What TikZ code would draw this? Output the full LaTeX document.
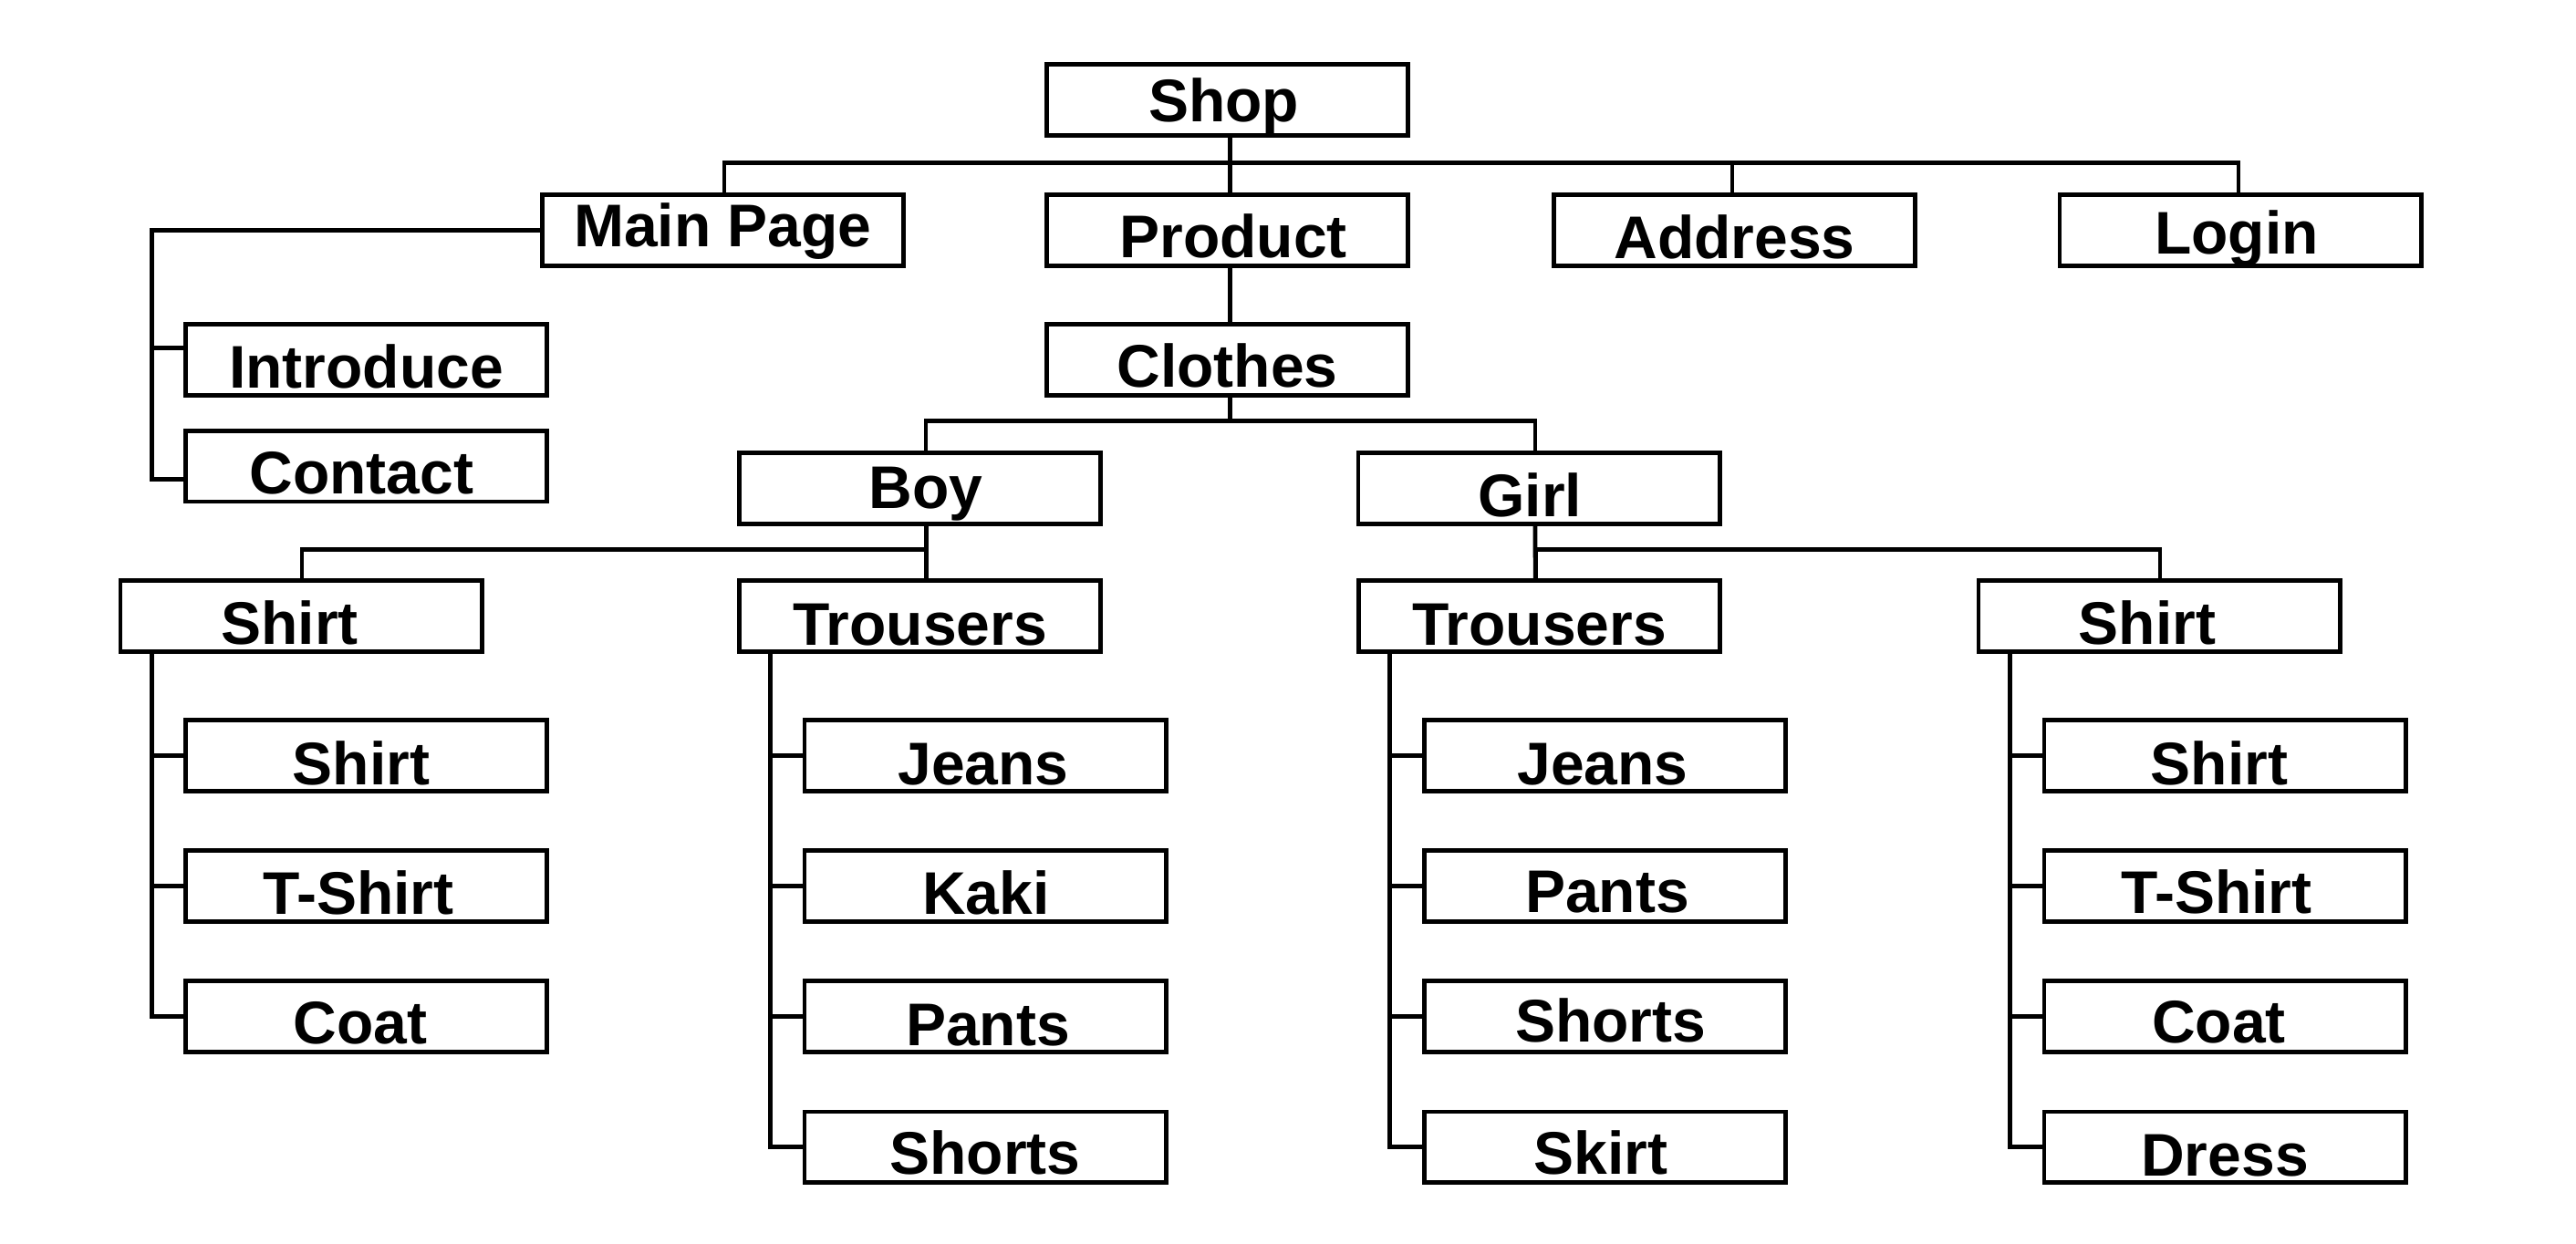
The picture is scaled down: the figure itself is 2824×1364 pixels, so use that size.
\documentclass[tikz,border=0pt]{standalone}
\usepackage{fontspec}
\setmainfont{Liberation Sans}
\newcommand\lbl[3]{\raisebox{-#2pt}{\hspace*{#1pt}\makebox[0pt]{#3}\hspace*{-#1pt}}}
\begin{document}
\begin{tikzpicture}[x=1pt,y=-1pt,line width=4.7pt,
  bx/.style={draw,line width=4.7pt,minimum width=396.3pt,minimum height=77.7pt,
    inner sep=0pt,outer sep=0pt,text height=47.2pt,text depth=0pt,
    font=\fontsize{66}{79}\selectfont\bfseries},
  link/.style={draw,line width=4.7pt}]
\fill[white] (0,0) rectangle (2824,1364);
\useasboundingbox (0,0) rectangle (2824,1364);
% level 0 and 1
\node[bx] (shop) at (1345.5,109.5) {\lbl{-4}{0}{Shop}};
\node[bx] (mp) at (792.5,252.5) {\lbl{0}{-6}{Main Page}};
\node[bx] (product) at (1345.5,252.5) {\lbl{6.5}{6}{Product}};
\node[bx] (address) at (1901.5,252.5) {\lbl{0}{7}{Address}};
\node[bx] (login) at (2456,252.5) {\lbl{-4}{2}{Login}};
% main page children
\node[bx] (intro) at (401.5,394.5) {\lbl{0}{7.5}{Introduce}};
\node[bx] (contact) at (401.5,511) {\lbl{-5}{7}{Contact}};
% product branch
\node[bx] (clothes) at (1345.5,394.5) {\lbl{0}{6.5}{Clothes}};
\node[bx] (boy) at (1008.5,535.5) {\lbl{6.5}{-1.5}{Boy}};
\node[bx] (girl) at (1687.2,535.5) {\lbl{-10}{7}{Girl}};
\node[bx] (bshirt) at (330,675.5) {\lbl{-12.5}{7}{Shirt}};
\node[bx] (btrousers) at (1008.5,675.5) {\lbl{0}{8}{Trousers}};
\node[bx] (gtrousers) at (1687.5,675.5) {\lbl{0}{8.5}{Trousers}};
\node[bx] (gshirt) at (2367,675.5) {\lbl{-13}{7}{Shirt}};
% boy shirt children
\node[bx] (bs1) at (401.6,828.5) {\lbl{-5.6}{8.5}{Shirt}};
\node[bx] (bs2) at (401.6,971.5) {\lbl{-8.6}{7}{T-Shirt}};
\node[bx] (bs3) at (401.6,1114.5) {\lbl{-6.6}{6}{Coat}};
% boy trousers children
\node[bx] (bt1) at (1080,828.5) {\lbl{-2}{8}{Jeans}};
\node[bx] (bt2) at (1080,971.5) {\lbl{0.7}{7}{Kaki}};
\node[bx] (bt3) at (1080,1114.5) {\lbl{3}{8}{Pants}};
\node[bx] (bt4) at (1080,1257.8) {\lbl{0}{6}{Shorts}};
% girl trousers children
\node[bx] (gt1) at (1759.6,828.5) {\lbl{-2.6}{8.5}{Jeans}};
\node[bx] (gt2) at (1759.6,971.5) {\lbl{2.4}{5.5}{Pants}};
\node[bx] (gt3) at (1759.6,1114.5) {\lbl{6}{4.5}{Shorts}};
\node[bx] (gt4) at (1759.6,1257.8) {\lbl{-4.6}{6}{Skirt}};
% girl shirt children
\node[bx] (gs1) at (2439,828.5) {\lbl{-6}{8.5}{Shirt}};
\node[bx] (gs2) at (2439,971.5) {\lbl{-9}{6}{T-Shirt}};
\node[bx] (gs3) at (2439,1114.5) {\lbl{-6.4}{5.5}{Coat}};
\node[bx] (gs4) at (2439,1257.8) {\lbl{0}{7.8}{Dress}};
% connectors: top level
\draw[link] ([xshift=2.8pt]shop.south) -- ([xshift=2.8pt]product.north);
\draw[link] ([xshift=1.5pt]mp.north) -- ++(0,-35.4) -| ([xshift=-2pt]login.north);
\draw[link] ([xshift=-2.5pt]address.north) -- ++(0,-35.4);
% main page spine
\draw[link] (mp.west) -| ([xshift=-37pt,yshift=-14.4pt]contact.west) -- ([yshift=-14.4pt]contact.west);
\draw[link] ([xshift=-37pt,yshift=13pt]intro.west) -- ([yshift=13pt]intro.west);
% product -> clothes -> boy / girl
\draw[link] ([xshift=2.8pt]product.south) -- ([xshift=2.8pt]clothes.north);
\draw[link] ([xshift=2.8pt]clothes.south) -- ++(0,28.15);
\draw[link] ([xshift=6.5pt]boy.north) -- ++(0,-35.15) -| ([xshift=-4.2pt]girl.north);
% boy -> shirt / trousers
\draw[link] ([xshift=7pt]boy.south) -- ([xshift=7pt]btrousers.north);
\draw[link] ([xshift=1pt]bshirt.north) -- ++(0,-34.35) -| ([xshift=7pt]btrousers.north);
% girl -> trousers / shirt
\draw[link] ([xshift=-4.3pt]girl.south) -- ([xshift=-4.3pt]gtrousers.north);
\draw[link] ([xshift=-4.3pt]gtrousers.north) -- ++(0,-34.35) -| ([xshift=1pt]gshirt.north);
% spines
\draw[link] ([xshift=34.3pt]bshirt.south west) |- (bs3.west);
\draw[link] (bs1.west) -- ++(-37.3,0);
\draw[link] (bs2.west) -- ++(-37.3,0);
\draw[link] ([xshift=34.3pt]btrousers.south west) |- (bt4.west);
\draw[link] (bt1.west) -- ++(-37.3,0);
\draw[link] (bt2.west) -- ++(-37.3,0);
\draw[link] (bt3.west) -- ++(-37.3,0);
\draw[link] ([xshift=34.3pt]gtrousers.south west) |- (gt4.west);
\draw[link] (gt1.west) -- ++(-37.3,0);
\draw[link] (gt2.west) -- ++(-37.3,0);
\draw[link] (gt3.west) -- ++(-37.3,0);
\draw[link] ([xshift=34.3pt]gshirt.south west) |- (gs4.west);
\draw[link] (gs1.west) -- ++(-37.3,0);
\draw[link] (gs2.west) -- ++(-37.3,0);
\draw[link] (gs3.west) -- ++(-37.3,0);
\end{tikzpicture}
\end{document}
